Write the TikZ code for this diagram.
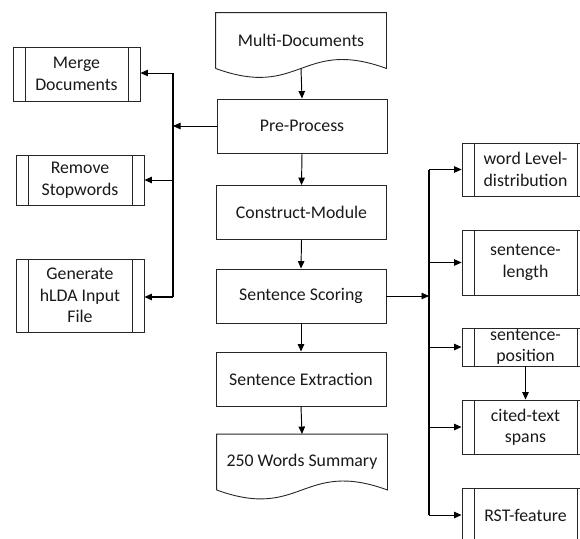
\documentclass[tikz,border=0pt]{standalone}
\usepackage{fontspec}
\setmainfont{Carlito}
\usetikzlibrary{arrows.meta}

\tikzset{
  base/.style={draw=black!85, line width=0.9pt, rectangle, align=center,
    inner sep=0pt, font=\fontsize{17.8}{21.5}\selectfont, text=black!90},
  proc/.style={base, minimum width=170pt, minimum height=54pt},
  docbox/.style={base, draw=none, minimum width=170pt, minimum height=55pt},
  subproc/.style={base, minimum width=#1, 
    path picture={
      \draw[black!85, line width=0.9pt]
        ([xshift=12pt]path picture bounding box.north west) --
        ([xshift=12pt]path picture bounding box.south west);
      \draw[black!85, line width=0.9pt]
        ([xshift=-12pt]path picture bounding box.north east) --
        ([xshift=-12pt]path picture bounding box.south east);
    }},
  docline/.style={draw=black!85, line width=0.9pt},
  arr/.style={line width=0.95pt, -{Triangle[length=7.5pt,width=6.5pt]}},
  bus/.style={line width=1.1pt}
}

\begin{document}
\begin{tikzpicture}[x=1pt, y=-1pt]
\useasboundingbox (0,0) rectangle (580,538);
\clip (0,0) rectangle (580,538);

% main column
\node[docbox] (md) at (301,40.5) {Multi-Documents};
\node[proc] (pp) at (302,126) {Pre-Process};
\node[proc] (cm) at (301.5,212.5) {Construct-Module};
\node[proc] (ss) at (301,296) {Sentence Scoring};
\node[proc] (se) at (301,379) {Sentence Extraction};
\node[docbox, minimum height=55pt] (ws) at (302,462) {250 Words Summary};

% document outlines with wavy lower edge
\draw[docline] (md.south west) -- (md.north west) -- (md.north east) -- (md.south east)
  .. controls ([xshift=-85pt,yshift=31pt]md.south east) and ([xshift=85pt,yshift=-31pt]md.south west) .. (md.south west);
\draw[docline] (ws.south west) -- (ws.north west) -- (ws.north east) -- (ws.south east)
  .. controls ([xshift=-85pt,yshift=31pt]ws.south east) and ([xshift=85pt,yshift=-31pt]ws.south west) .. (ws.south west);

\draw[arr] (md.south) -- (pp.north);
\draw[arr] (pp.south) -- (cm.north);
\draw[arr] (cm.south) -- (ss.north);
\draw[arr] (ss.south) -- (se.north);
\draw[arr] (se.south) -- (ws.north);

% pre-processing steps
\node[subproc=127pt, minimum height=54pt] (mg) at (76.5,74) {Merge\\Documents};
\node[subproc=128pt, minimum height=50pt] (rs) at (80,180) {Remove\\Stopwords};
\node[subproc=128pt, minimum height=73pt] (gh) at (80,295.5) {Generate\\hLDA Input\\File};

\coordinate (lt) at (173,73);
\coordinate (lb) at (173,297);
\draw[bus] (lt) -- (lb);
\draw[arr] (pp.west) -- (pp.west -| lt);
\draw[arr] (lt) -- (lt -| mg.east);
\draw[arr] (rs.east -| lt) -- (rs.east);
\draw[arr, line width=1.3pt] (lb) -- (lb -| gh.east);

% scoring features
\node[subproc=127pt, minimum height=53pt] (wl) at (525.5,169.5) {word Level-\\distribution};
\node[subproc=127pt, minimum height=65pt] (sl) at (525.5,262.5) {sentence-\\length};
\node[subproc=127pt, minimum height=38pt] (sp) at (525.5,347) {sentence-\\position};
\node[subproc=127pt, minimum height=54pt] (ct) at (525.5,427) {cited-text\\spans};
\node[subproc=127pt, minimum height=54pt] (rst) at (525.5,515) {RST-feature};

\coordinate (rt) at (429,169.5);
\coordinate (rb) at (429,515);
\draw[bus] (rt) -- (rb);
\draw[arr] (ss.east) -- (ss.east -| rt);
\draw[arr] (rt) -- (wl.west);
\draw[arr] (sl.west -| rt) -- (sl.west);
\draw[arr] (sp.west -| rt) -- (sp.west);
\draw[arr] (ct.west -| rt) -- (ct.west);
\draw[arr] (rb) -- (rst.west);
\draw[arr] (sp.south) -- (ct.north);
\end{tikzpicture}
\end{document}
